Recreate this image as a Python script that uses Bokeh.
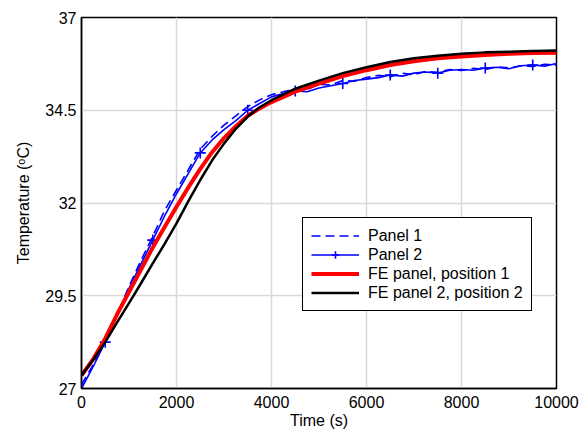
from bokeh.plotting import figure
from bokeh.models import Range1d, FixedTicker, Legend, LegendItem
from bokeh.embed import file_html
from bokeh.resources import INLINE

# ---- data ----
t_exp = [0, 250, 500, 750, 1000, 1250, 1500, 1750, 2000, 2250, 2500, 2750, 3000,
         3250, 3500, 3750, 4000, 4250, 4500, 4750, 5000, 5250, 5500, 5750, 6000,
         6250, 6500, 6750, 7000, 7250, 7500, 7750, 8000, 8250, 8500, 8750, 9000,
         9250, 9500, 9750, 10000]
panel1 = [27.1, 27.65, 28.3, 29.0, 29.75, 30.45, 31.1, 31.8, 32.35, 32.9, 33.45,
          33.8, 34.1, 34.35, 34.6, 34.78, 34.92, 35.0, 35.08, 35.06, 35.2, 35.18,
          35.3, 35.28, 35.38, 35.44, 35.4, 35.5, 35.46, 35.55, 35.52, 35.6,
          35.57, 35.63, 35.6, 35.67, 35.64, 35.7, 35.68, 35.74, 35.72]
panel2 = [27.0, 27.6, 28.25, 28.95, 29.7, 30.35, 31.0, 31.65, 32.25, 32.8, 33.35,
          33.7, 33.98, 34.22, 34.5, 34.68, 34.86, 34.95, 35.02, 35.0, 35.1, 35.16,
          35.22, 35.3, 35.34, 35.38, 35.45, 35.42, 35.5, 35.53, 35.5, 35.58, 35.6,
          35.58, 35.64, 35.66, 35.62, 35.7, 35.72, 35.69, 35.76]

t_fe = [0, 250, 500, 750, 1000, 1250, 1500, 1750, 2000, 2250, 2500, 2750, 3000,
        3250, 3500, 3750, 4000, 4500, 5000, 5500, 6000, 6500, 7000, 7500, 8000,
        8500, 9000, 9500, 10000]
fe_pos1 = [27.35, 27.8, 28.35, 29.0, 29.6, 30.2, 30.8, 31.35, 31.9, 32.42, 32.92,
           33.37, 33.75, 34.07, 34.35, 34.55, 34.72, 35.0, 35.22, 35.42, 35.58,
           35.72, 35.82, 35.9, 35.95, 35.99, 36.02, 36.04, 36.05]
fe_pos2 = [27.35, 27.78, 28.25, 28.78, 29.3, 29.83, 30.37, 30.9, 31.45, 32.05,
           32.62, 33.15, 33.6, 34.0, 34.33, 34.58, 34.77, 35.08, 35.3, 35.5, 35.66,
           35.8, 35.9, 35.97, 36.02, 36.06, 36.08, 36.1, 36.11]

x_ticks = [0, 2000, 4000, 6000, 8000, 10000]
y_ticks = [27, 29.5, 32, 34.5, 37]
y_tick_labels = ["27", "29.5", "32", "34.5", "37"]

FONT = "Liberation Sans"

p = figure(width=579, height=431, x_range=Range1d(0, 10000), y_range=Range1d(27, 37),
           output_backend="svg", toolbar_location=None,
           min_border_left=81, min_border_right=23, min_border_top=17, min_border_bottom=0,
           background_fill_color="white", border_fill_color="white")

p.xaxis.ticker = FixedTicker(ticks=x_ticks)
p.yaxis.ticker = FixedTicker(ticks=y_ticks)
p.yaxis.major_label_overrides = {v: s for v, s in zip(y_ticks, y_tick_labels)}
p.xaxis.axis_label = "Time (s)"
p.yaxis.axis_label = "Temperature (ᵒC)"

for ax in (p.xaxis, p.yaxis):
    ax.axis_label_text_font = FONT
    ax.axis_label_text_font_size = "16px"
    ax.axis_label_text_font_style = "normal"
    ax.axis_label_text_color = "black"
    ax.major_label_text_font = FONT
    ax.major_label_text_font_size = "16px"
    ax.major_label_text_color = "black"
    ax.axis_line_color = "black"
    ax.axis_line_width = 1.5
    ax.major_tick_out = 0
    ax.major_tick_in = 0
    ax.minor_tick_line_color = None
p.xaxis.major_label_standoff = 7
p.xaxis.axis_label_standoff = 1
p.yaxis.major_label_standoff = 5
p.yaxis.axis_label_standoff = 10

p.grid.grid_line_color = "#d9d9d9"
p.grid.grid_line_width = 1.5
p.outline_line_color = "black"
p.outline_line_width = 1.5
p.outline_line_alpha = 1.0

r1 = p.line(t_exp, panel1, line_color="#0000ff", line_width=1.6, line_dash="9 5")
r2 = p.line(t_exp, panel2, line_color="#0000ff", line_width=1.6)
r2m = p.scatter(t_exp[2::4], panel2[2::4], marker="cross", size=11,
                line_color="#0000ff", line_width=1.6)
r3 = p.line(t_fe, fe_pos1, line_color="#ff0000", line_width=4)
r4 = p.line(t_fe, fe_pos2, line_color="black", line_width=2.5)

legend = Legend(items=[
    LegendItem(label="Panel 1", renderers=[r1]),
    LegendItem(label="Panel 2", renderers=[r2, r2m]),
    LegendItem(label="FE panel, position 1", renderers=[r3]),
    LegendItem(label="FE panel 2, position 2", renderers=[r4]),
], location=(221, 77))
legend.label_text_font = FONT
legend.label_text_font_size = "16px"
legend.label_text_color = "black"
legend.glyph_width = 48
legend.glyph_height = 19
legend.label_height = 19
legend.label_standoff = 9
legend.spacing = 0
legend.padding = 8
legend.margin = 0
legend.border_line_color = "black"
legend.border_line_width = 1.5
legend.border_line_alpha = 1.0
legend.background_fill_color = "white"
legend.background_fill_alpha = 1.0
p.add_layout(legend)

open("out.html", "w").write(file_html(p, INLINE))
